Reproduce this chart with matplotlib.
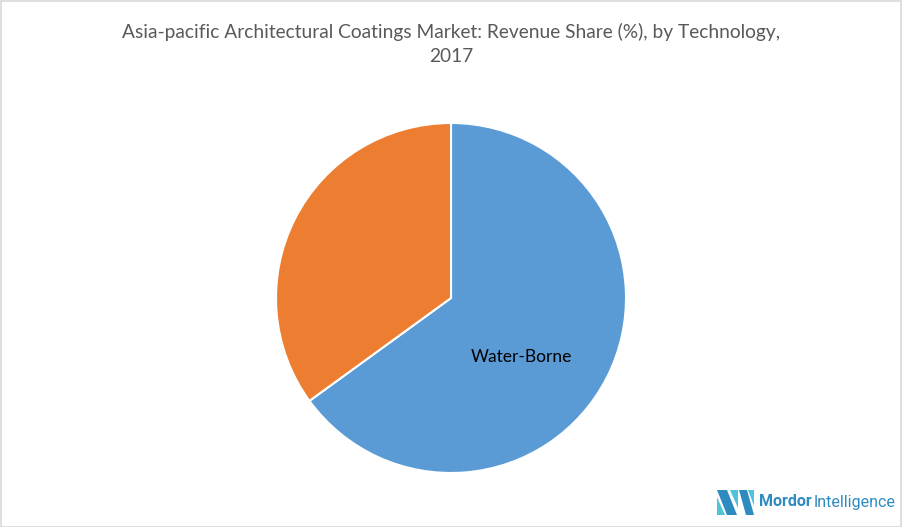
import matplotlib
matplotlib.use("Agg")
import matplotlib.pyplot as plt
from matplotlib.patches import Polygon, Rectangle

categories = ["Water-Borne", "Solvent-Borne"]
shares = [65, 35]
colors = ["#5B9BD5", "#ED7D31"]
title = "Asia-pacific Architectural Coatings Market: Revenue Share (%), by Technology,\n2017"

W, H = 902, 527
fig = plt.figure(figsize=(W / 100, H / 100), dpi=100)
fig.patch.set_facecolor("white")

# border
fig.add_artist(Rectangle((0.5 / W, 0.5 / H), 1 - 1.5 / W, 1 - 1.5 / H, transform=fig.transFigure,
                         fill=False, edgecolor="#D9D9D9", linewidth=1.2))

cx, cy, r = 451, 298, 175
ax = fig.add_axes([(cx - r) / W, (H - cy - r) / H, 2 * r / W, 2 * r / H])
wedges, _ = ax.pie(shares, colors=colors, startangle=90, counterclock=False,
                   wedgeprops=dict(edgecolor="white", linewidth=1.5))
ax.set_xlim(-1, 1)
ax.set_ylim(-1, 1)
ax.set_aspect("equal")
ax.axis("off")
ax.text(0.405, -0.34, categories[0], ha="center", va="center", fontsize=12.5,
        family="Lato", color="#000000")

fig.text(0.5, 1 - 44 / H, title, ha="center", va="center", fontsize=13.8,
         family="Lato", color="#595959", linespacing=1.55)

# logo
def fx(x):
    return x / W

def fy(y):
    return 1 - y / H

icon = [
    ([(717, 490), (727, 490), (737, 515), (727, 515)], "#2E8BC0"),
    ([(717, 497), (717, 515), (725, 515)], "#4FC3D8"),
    ([(730, 490), (738, 490), (738, 508)], "#4FC3D8"),
    ([(739, 490), (747, 490), (754, 515), (746, 515)], "#2E8BC0"),
    ([(748, 490), (754, 490), (754, 506)], "#4FC3D8"),
]
for pts, c in icon:
    fig.add_artist(Polygon([(fx(x), fy(y)) for x, y in pts], closed=True,
                           transform=fig.transFigure, facecolor=c, edgecolor="none"))
t1 = fig.text(fx(759), fy(502), "Mordor", ha="left", va="center", fontsize=11.5,
              family="Roboto", weight="bold", color="#2E8BC0")
fig.canvas.draw()
bb = t1.get_window_extent()
fig.text((bb.x1 + 2) / W, fy(502), "Intelligence", ha="left", va="center", fontsize=11.5,
         family="Roboto", color="#2E8BC0")

fig.savefig("out.png", dpi=100, facecolor="white")
